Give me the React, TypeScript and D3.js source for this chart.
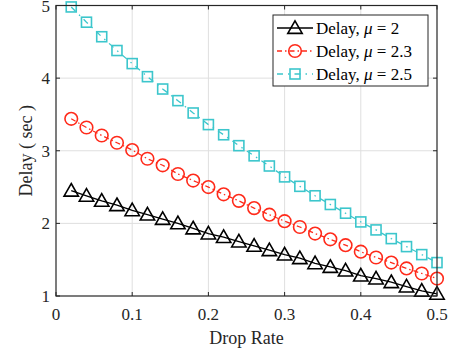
import { useEffect, useRef } from "react";
import * as d3 from "d3";

// drop rate values (x)
const dropRates = [0.02, 0.04, 0.06, 0.08, 0.1, 0.12, 0.14, 0.16, 0.18, 0.2, 0.22, 0.24, 0.26, 0.28, 0.3, 0.32, 0.34, 0.36, 0.38, 0.4, 0.42, 0.44, 0.46, 0.48, 0.5];

// delay for each mu
const delayMu2 = [2.45, 2.38, 2.31, 2.25, 2.18, 2.12, 2.06, 2.0, 1.93, 1.86, 1.81, 1.75, 1.69, 1.63, 1.57, 1.52, 1.45, 1.4, 1.35, 1.28, 1.24, 1.19, 1.13, 1.07, 1.03];
const delayMu23 = [3.44, 3.32, 3.21, 3.11, 3.01, 2.89, 2.8, 2.68, 2.59, 2.5, 2.4, 2.31, 2.21, 2.12, 2.03, 1.95, 1.86, 1.78, 1.7, 1.61, 1.53, 1.46, 1.38, 1.31, 1.24];
const delayMu25 = [4.98, 4.77, 4.57, 4.38, 4.2, 4.02, 3.85, 3.69, 3.52, 3.36, 3.22, 3.07, 2.93, 2.79, 2.64, 2.51, 2.38, 2.26, 2.14, 2.02, 1.91, 1.79, 1.68, 1.57, 1.46];

const muLabels = ["2", "2.3", "2.5"];
const xTicks = [0, 0.1, 0.2, 0.3, 0.4, 0.5];
const yTicks = [1, 2, 3, 4, 5];

const App = () => {
    const ref = useRef<SVGSVGElement>(null);

    useEffect(() => {
        const width = 450;
        const height = 351;
        const marginLeft = 56;
        const marginRight = 13;
        const marginTop = 5.5;
        const marginBottom = 55;
        const font = "'Liberation Serif', 'Times New Roman', serif";
        const axisColor = "#262626";

        const x = d3.scaleLinear().domain([0, 0.5]).range([marginLeft, width - marginRight]);
        const y = d3.scaleLinear().domain([1, 5]).range([height - marginBottom, marginTop]);

        const svg = d3.select(ref.current)
            .attr("width", width)
            .attr("height", height)
            .attr("viewBox", [0, 0, width, height])
            .style("display", "block")
            .style("position", "absolute")
            .style("left", "0px")
            .style("top", "0px");
        svg.selectAll("*").remove();

        svg.append("rect")
            .attr("width", width).attr("height", height).attr("fill", "#fff");

        // grid
        const grid = svg.append("g").attr("stroke", "#dfdfdf").attr("stroke-width", 1);
        xTicks.slice(1, -1).forEach(t => {
            grid.append("line").attr("x1", x(t)).attr("x2", x(t))
                .attr("y1", y(1)).attr("y2", y(5));
        });
        yTicks.slice(1, -1).forEach(t => {
            grid.append("line").attr("y1", y(t)).attr("y2", y(t))
                .attr("x1", x(0)).attr("x2", x(0.5));
        });

        // series
        const series = [
            { values: delayMu2, color: "#000000", dash: null, marker: "tri" },
            { values: delayMu23, color: "#ff2a1a", dash: "5,3,1.5,3", marker: "circ" },
            { values: delayMu25, color: "#3cc6cc", dash: "6,5,1.5,5", marker: "sq" },
        ];

        const line = d3.line<number>()
            .x((_, i) => x(dropRates[i]))
            .y(d => y(d));

        const drawMarker = (g: any, kind: string, cx: number, cy: number, color: string) => {
            if (kind === "tri") {
                const s = 7.2;
                g.append("path")
                    .attr("d", `M${cx},${cy - s} L${cx + s},${cy + s * 0.75} L${cx - s},${cy + s * 0.75} Z`)
                    .attr("fill", "none").attr("stroke", color).attr("stroke-width", 1.6);
            } else if (kind === "circ") {
                g.append("circle").attr("cx", cx).attr("cy", cy).attr("r", 6.3)
                    .attr("fill", "none").attr("stroke", color).attr("stroke-width", 1.6);
            } else {
                g.append("rect").attr("x", cx - 5).attr("y", cy - 5).attr("width", 10).attr("height", 10)
                    .attr("fill", "none").attr("stroke", color).attr("stroke-width", 1.6);
            }
        };

        series.forEach(s => {
            const p = svg.append("path")
                .attr("fill", "none")
                .attr("stroke", s.color)
                .attr("stroke-width", 1.3)
                .attr("d", line(s.values));
            if (s.dash) p.attr("stroke-dasharray", s.dash);
            const g = svg.append("g");
            s.values.forEach((v, i) => drawMarker(g, s.marker, x(dropRates[i]), y(v), s.color));
        });

        // axes box
        svg.append("rect")
            .attr("x", x(0)).attr("y", y(5))
            .attr("width", x(0.5) - x(0)).attr("height", y(1) - y(5))
            .attr("fill", "none").attr("stroke", axisColor).attr("stroke-width", 1.2);

        // ticks (inward)
        const ticks = svg.append("g").attr("stroke", axisColor).attr("stroke-width", 1);
        xTicks.forEach(t => {
            ticks.append("line").attr("x1", x(t)).attr("x2", x(t)).attr("y1", y(1)).attr("y2", y(1) - 4);
            ticks.append("line").attr("x1", x(t)).attr("x2", x(t)).attr("y1", y(5)).attr("y2", y(5) + 4);
        });
        yTicks.forEach(t => {
            ticks.append("line").attr("y1", y(t)).attr("y2", y(t)).attr("x1", x(0)).attr("x2", x(0) + 4);
            ticks.append("line").attr("y1", y(t)).attr("y2", y(t)).attr("x1", x(0.5)).attr("x2", x(0.5) - 4);
        });

        // tick labels
        const fmt = d3.format("");
        svg.append("g").selectAll("text").data(xTicks).join("text")
            .attr("x", d => x(d)).attr("y", y(1) + 24)
            .attr("text-anchor", "middle")
            .attr("font-family", font).attr("font-size", 17).attr("fill", axisColor)
            .text(d => fmt(d));
        svg.append("g").selectAll("text").data(yTicks).join("text")
            .attr("x", x(0) - 6).attr("y", d => y(d) + 6)
            .attr("text-anchor", "end")
            .attr("font-family", font).attr("font-size", 17).attr("fill", axisColor)
            .text(d => fmt(d));

        // axis titles
        svg.append("text")
            .attr("x", (x(0) + x(0.5)) / 2).attr("y", 344)
            .attr("text-anchor", "middle")
            .attr("font-family", font).attr("font-size", 18).attr("fill", axisColor)
            .text("Drop Rate");
        svg.append("text")
            .attr("transform", `translate(32,${(y(1) + y(5)) / 2}) rotate(-90)`)
            .attr("text-anchor", "middle")
            .attr("font-family", font).attr("font-size", 18).attr("fill", axisColor)
            .text("Delay ( sec )");

        // legend
        const lx = 273, ly = 15, lw = 155, lh = 71;
        const legend = svg.append("g");
        legend.append("rect").attr("x", lx).attr("y", ly).attr("width", lw).attr("height", lh)
            .attr("fill", "#fff").attr("stroke", axisColor).attr("stroke-width", 1);
        series.forEach((s, i) => {
            const cy = ly + 13 + i * 23;
            const ln = legend.append("line").attr("x1", lx + 4).attr("x2", lx + 40)
                .attr("y1", cy).attr("y2", cy)
                .attr("stroke", s.color).attr("stroke-width", 1.3);
            if (s.dash) ln.attr("stroke-dasharray", s.dash);
            drawMarker(legend, s.marker, lx + 22, cy, s.color);
            const t = legend.append("text").attr("x", lx + 43).attr("y", cy + 6)
                .attr("font-family", font).attr("font-size", 17).attr("fill", "#000");
            t.append("tspan").text("Delay, ");
            t.append("tspan").attr("font-style", "italic").text("\u03bc");
            t.append("tspan").text(` = ${muLabels[i]}`);
        });
    }, []);

    return <svg ref={ref}></svg>;
};

export default App;
